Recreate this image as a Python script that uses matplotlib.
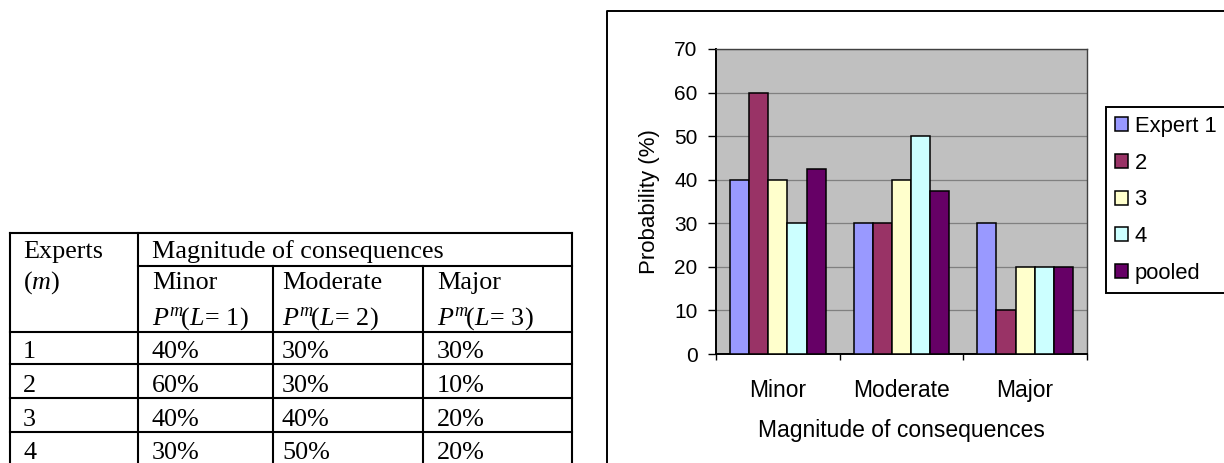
import matplotlib
matplotlib.use("Agg")
import matplotlib.pyplot as plt
import numpy as np

# ---------------- data ----------------
categories = ["Minor", "Moderate", "Major"]
series_names = ["Expert 1", "2", "3", "4", "pooled"]
expert1 = [40, 30, 30]
expert2 = [60, 30, 10]
expert3 = [40, 40, 20]
expert4 = [30, 50, 20]
pooled = [42.5, 37.5, 20]
y_ticks = [0, 10, 20, 30, 40, 50, 60, 70]

table_experts = ["1", "2", "3", "4"]
table_minor = [40, 60, 40, 30]
table_moderate = [30, 30, 40, 50]
table_major = [30, 10, 20, 20]

series_colors = ["#9999FF", "#993366", "#FFFFCC", "#CCFFFF", "#660066"]

# ---------------- styling ----------------
plt.rcParams["font.family"] = "Liberation Sans"
plt.rcParams["mathtext.fontset"] = "custom"
plt.rcParams["mathtext.rm"] = "Liberation Serif"
plt.rcParams["mathtext.it"] = "Liberation Serif:italic"
plt.rcParams["mathtext.bf"] = "Liberation Serif:bold"

W, H = 1224, 463
fig = plt.figure(figsize=(W / 100, H / 100), dpi=100, facecolor="white")

# pixel-space layer for the table and the chart frame
bg = fig.add_axes([0, 0, 1, 1])
bg.set_xlim(0, W)
bg.set_ylim(H, 0)
bg.axis("off")

# ---------------- table ----------------
lw_tab = 1.5
serif = "Liberation Serif"
tfs = 18.8
x_left, x_c1, x_c2, x_c3, x_right = 10, 138, 273, 423, 572
y_top, y_h1, y_h2 = 233, 266, 332
row_lines = [364, 398, 432, 466]

def hline(y, x0, x1):
    bg.plot([x0, x1], [y, y], color="black", lw=lw_tab, solid_capstyle="projecting")

def vline(x, y0, y1):
    bg.plot([x, x], [y0, y1], color="black", lw=lw_tab, solid_capstyle="projecting")

hline(y_top, x_left, x_right)
hline(y_h1, x_c1, x_right)
hline(y_h2, x_left, x_right)
for y in row_lines:
    hline(y, x_left, x_right)
vline(x_left, y_top, 470)
vline(x_c1, y_top, 470)
vline(x_c2, y_h1, 470)
vline(x_c3, y_h1, 470)
vline(x_right, y_top, 470)

def cell(x, y, s):
    bg.text(x, y, s, family=serif, fontsize=tfs, ha="left", va="baseline")

cell(23, 258, "Experts")
cell(23, 289, r"$(m)$")
cell(152, 258, "Magnitude of consequences")
col_x = [152, 282, 437]
for cx, name, lev in zip(col_x, categories, [1, 2, 3]):
    cell(cx, 289, name)
    cell(cx, 325, r"$P^{m}\!(L\!=\!\ %d)$" % lev)

row_base = [358, 392, 426, 459]
for yb, e, a, b, c in zip(row_base, table_experts, table_minor, table_moderate, table_major):
    cell(23, yb, e)
    cell(col_x[0], yb, f"{a}%")
    cell(col_x[1], yb, f"{b}%")
    cell(col_x[2], yb, f"{c}%")

# ---------------- chart frame ----------------
bg.plot([607, 607, W + 5], [H + 5, 11, 11], color="black", lw=1.4)

# ---------------- bar chart ----------------
ax_l, ax_r, ax_t, ax_b = 716, 1087, 49, 354
ax = fig.add_axes([ax_l / W, 1 - ax_b / H, (ax_r - ax_l) / W, (ax_b - ax_t) / H])
ax.set_facecolor("#C0C0C0")

x = np.arange(len(categories))
bw = 0.155
all_series = [expert1, expert2, expert3, expert4, pooled]
for i, (vals, name, col) in enumerate(zip(all_series, series_names, series_colors)):
    ax.bar(x + (i - 2) * bw, vals, bw, color=col, edgecolor="black",
           linewidth=1.1, label=name, zorder=3)

ax.set_xlim(-0.5, len(categories) - 0.5)
ax.set_ylim(y_ticks[0], y_ticks[-1])
ax.set_yticks(y_ticks)
ax.tick_params(axis="y", direction="out", length=5.8, width=1.0, pad=7.5,
               labelsize=15, color="black")

ax.set_xticks(np.arange(len(categories) + 1) - 0.5)
ax.set_xticklabels([])
ax.set_xticks(x, minor=True)
ax.set_xticklabels(categories, minor=True)
ax.tick_params(axis="x", which="major", direction="out", length=4.3, width=1.0)
ax.tick_params(axis="x", which="minor", length=0, pad=18.0, labelsize=16.5)

ax.yaxis.grid(True, color="#808080", lw=0.9)
ax.set_axisbelow(True)

for s in ("left", "bottom"):
    ax.spines[s].set_color("black")
    ax.spines[s].set_linewidth(1.4)
for s in ("top", "right"):
    ax.spines[s].set_color("#404040")
    ax.spines[s].set_linewidth(1.0)

ax.set_xlabel("Magnitude of consequences", fontsize=16.5)
ax.xaxis.set_label_coords(0.5, (ax_b - 419) / (ax_b - ax_t))
ax.set_ylabel("Probability (%)", fontsize=16)
ax.yaxis.set_label_coords((660 - ax_l) / (ax_r - ax_l), 0.5)

leg = ax.legend(loc="upper left", bbox_to_anchor=(1106 / W, 1 - 107 / H),
                bbox_transform=fig.transFigure, frameon=True, fancybox=False,
                edgecolor="black", framealpha=1, fontsize=15.8,
                handlelength=0.6, handleheight=0.6, handletextpad=0.3,
                labelspacing=0.72, borderpad=0.4, borderaxespad=0)
leg.get_frame().set_linewidth(1.4)

fig.savefig("out.png", dpi=100, facecolor="white")
